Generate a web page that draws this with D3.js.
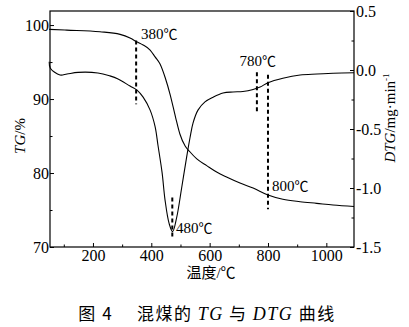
<!DOCTYPE html>
<html><head><meta charset="utf-8">
<script src="https://cdn.jsdelivr.net/npm/d3@7"></script>
<style>body{margin:0;background:#fff}svg{display:block}text{font-family:"Liberation Serif","Noto Sans CJK SC",serif;fill:#000}</style>
</head><body>
<script>
// Data
const tgTemp = [50,110,224,293,327,350,372,396,413,430,448,465,483,498,516,533,556,590,624,658,704,749,800,851,910,967,1023,1095];
const tgValue = [99.42,99.32,99.1,98.74,98.24,97.74,97.3,96.62,95.7,94.73,92.84,90.54,87.57,85.27,83.65,82.84,81.9,81.0,80.14,79.46,78.65,77.97,77.03,76.45,76.12,75.9,75.68,75.47];
const dtgTemp = [50,54,87,111,149,217,258,286,327,351,372,396,413,423,437,447,461,473,487,504,521,533,543,560,584,612,646,680,714,749,773,800,851,910,968,1023,1095];
const dtgValue = [0.07,0.015,-0.042,-0.034,-0.02,-0.025,-0.05,-0.076,-0.136,-0.17,-0.23,-0.34,-0.48,-0.64,-0.87,-1.10,-1.30,-1.37,-1.25,-1.0,-0.74,-0.57,-0.45,-0.34,-0.27,-0.23,-0.195,-0.186,-0.182,-0.165,-0.144,-0.108,-0.07,-0.042,-0.034,-0.028,-0.023];
const xTicks = [200,400,600,800,1000];
const tgTicks = [70,80,90,100];
const dtgTicks = [0.5,0.0,-0.5,-1.0,-1.5];
const markTemp = [348,762,800,472];
const markLabel = ["380","780","800","480"];
const markFrom = [97.9,-0.02,-0.04,-1.08];
const markTo = [89.3,-0.36,-1.18,-1.42];

const W=409,H=327, L=50, R=354, T=11, B=247;
const svg=d3.select("body").append("svg").attr("width",W).attr("height",H);
svg.append("rect").attr("width",W).attr("height",H).attr("fill","#fff");

const x=d3.scaleLinear().domain([50,1100]).range([49.2,355.5]);
const yL=d3.scaleLinear().domain([70,101.9]).range([B,T]);
const yR=d3.scaleLinear().domain([-1.5,0.5]).range([B,T]);

svg.append("rect").attr("x",L).attr("y",T).attr("width",R-L).attr("height",B-T)
  .attr("fill","none").attr("stroke","#000").attr("stroke-width",1.2);

const fs=16;
svg.append("g").attr("transform",`translate(0,${B})`)
  .call(d3.axisBottom(x).tickValues(xTicks).tickSize(-4).tickPadding(3).tickFormat(d3.format("d")));
svg.append("g").attr("transform",`translate(0,${B})`)
  .call(d3.axisBottom(x).tickValues([100,300,500,700,900]).tickSize(-2.5).tickFormat(""));
svg.append("g").attr("transform",`translate(${L},0)`)
  .call(d3.axisLeft(yL).tickValues(tgTicks).tickSize(-4).tickPadding(1).tickFormat(d3.format("d")));
svg.append("g").attr("transform",`translate(${L},0)`)
  .call(d3.axisLeft(yL).tickValues([75,85,95]).tickSize(-2.5).tickFormat(""));
svg.append("g").attr("transform",`translate(${R},0)`)
  .call(d3.axisRight(yR).tickValues(dtgTicks).tickSize(-4).tickPadding(2).tickFormat(d=>d3.format(".1f")(d).replace("−","-")));
svg.append("g").attr("transform",`translate(${R},0)`)
  .call(d3.axisRight(yR).tickValues([0.25,-0.25,-0.75,-1.25]).tickSize(-2.5).tickFormat(""));
svg.selectAll(".domain").remove();
svg.selectAll(".tick line").attr("stroke","#000").attr("stroke-width",1);
svg.selectAll(".tick text").attr("font-size",fs).attr("font-family","Liberation Serif").attr("fill","#000");

const tgData=tgTemp.map((t,i)=>[t,tgValue[i]]);
const dtgData=dtgTemp.map((t,i)=>[t,dtgValue[i]]);
svg.append("path").datum(tgData).attr("fill","none").attr("stroke","#000").attr("stroke-width",1.1)
  .attr("d",d3.line().x(d=>x(d[0])).y(d=>yL(d[1])).curve(d3.curveMonotoneX));
svg.append("path").datum(dtgData).attr("fill","none").attr("stroke","#000").attr("stroke-width",1.1)
  .attr("d",d3.line().x(d=>x(d[0])).y(d=>yR(d[1])).curve(d3.curveCatmullRom.alpha(0.5)));

markTemp.forEach((t,i)=>{
  const ys = i===0 ? yL : yR;
  svg.append("line").attr("x1",x(t)).attr("x2",x(t)).attr("y1",ys(markFrom[i])).attr("y2",ys(markTo[i]))
    .attr("stroke","#000").attr("stroke-width",2).attr("stroke-dasharray","4,3");
});
const labPos=[[141,39,"start"],[276,66,"end"],[272,191,"start"],[176,233,"start"]];
markLabel.forEach((s,i)=>{
  const t=svg.append("text").attr("x",labPos[i][0]).attr("y",labPos[i][1]).attr("text-anchor",labPos[i][2])
    .attr("font-size",15);
  t.append("tspan").text(s);
  t.append("tspan").attr("font-family","Noto Sans CJK SC").attr("font-size",14).text("℃");
});

svg.append("text").attr("x",211).attr("y",278).attr("text-anchor","middle").attr("font-size",15)
  .attr("font-family","Noto Sans CJK SC").text("温度/℃");
const lt=svg.append("text").attr("transform","translate(25,136) rotate(-90)").attr("text-anchor","middle").attr("font-size",15);
lt.append("tspan").attr("font-style","italic").text("TG");
lt.append("tspan").text("/%");
const rt=svg.append("text").attr("transform","translate(395,118) rotate(-90)").attr("text-anchor","middle").attr("font-size",15);
rt.append("tspan").attr("font-style","italic").text("DTG");
rt.append("tspan").text("/mg·min");
rt.append("tspan").attr("font-size",9).attr("dy",-6).text("-1");

const cap=svg.append("text").attr("x",207).attr("y",320).attr("text-anchor","middle").attr("font-size",18)
  .attr("letter-spacing",1.5);
cap.append("tspan").attr("font-family","Noto Sans CJK SC").attr("font-size",17).text("图 4　 混煤的 ");
cap.append("tspan").attr("font-style","italic").text("TG");
cap.append("tspan").attr("font-family","Noto Sans CJK SC").attr("font-size",17).text(" 与 ");
cap.append("tspan").attr("font-style","italic").text("DTG");
cap.append("tspan").attr("font-family","Noto Sans CJK SC").attr("font-size",17).text(" 曲线");
</script>
</body></html>
